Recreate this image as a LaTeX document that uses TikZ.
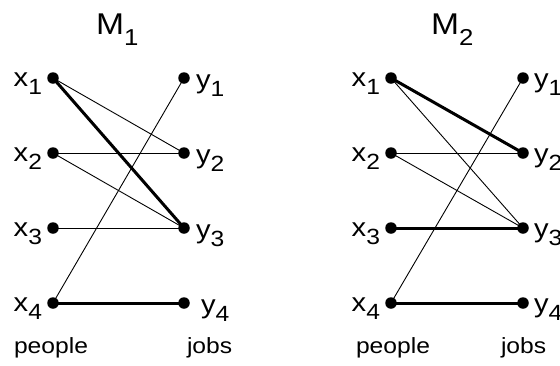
\documentclass[tikz,border=0pt]{standalone}
\usepackage{fontspec}
\setmainfont{Liberation Sans}[FakeStretch=1.12]
\newcommand\vlab[2]{#1\raisebox{-8pt}{\fontsize{22}{22}\selectfont #2}}
\newcommand\mlab[1]{\fontsize{30}{30}\selectfont M\raisebox{-11pt}{\fontsize{23}{23}\selectfont #1}}
\tikzset{
  dot/.style={circle,fill=black,inner sep=0pt,minimum size=11.5pt},
  thinedge/.style={line width=0.9pt},
  thickedge/.style={line width=3pt},
  lab/.style={inner sep=0pt,outer sep=0pt,font=\fontsize{26}{26}\selectfont},
  word/.style={inner sep=0pt,outer sep=0pt,font=\fontsize{22}{22}\selectfont,anchor=base west}
}
\begin{document}
\begin{tikzpicture}[x=1pt,y=-1pt]
\useasboundingbox (0,0) rectangle (560,365);
% ---------- M1 ----------
\node[inner sep=0pt,anchor=base west] (t1) at (96,34) {\mlab{1}};
\foreach \i/\r in {1/78,2/153,3/228,4/303}{
  \node[dot] (a\i) at (53,\r) {};
  \node[dot] (b\i) at (184,\r) {};
  \node[lab,anchor=base east] (la\i) at (42,\r+8) {\vlab{x}{\i}};
}
\node[lab,anchor=base west] (lb1) at (196,88) {\vlab{y}{1}};
\node[lab,anchor=base west] (lb2) at (196,163) {\vlab{y}{2}};
\node[lab,anchor=base west] (lb3) at (196,238) {\vlab{y}{3}};
\node[lab,anchor=base west] (lb4) at (201,313) {\vlab{y}{4}};
\draw[thinedge] (a1.center) -- (b2.center);
\draw[thickedge] (a1.center) -- (b3.center);
\draw[thinedge] (a2.center) -- (b2.center);
\draw[thinedge] (a2.center) -- (b3.center);
\draw[thinedge] (a3.center) -- (b3.center);
\draw[thinedge] (a4.center) -- (b1.center);
\draw[thickedge] (a4.center) -- (b4.center);
\node[word] (p1) at (14,353) {people};
\node[word] (j1) at (187,353) {jobs};
% ---------- M2 ----------
\node[inner sep=0pt,anchor=base west] (t2) at (431,34) {\mlab{2}};
\foreach \i/\r in {1/78,2/153,3/228,4/303}{
  \node[dot] (c\i) at (391,\r) {};
  \node[dot] (d\i) at (523,\r) {};
  \node[lab,anchor=base east] (lc\i) at (380,\r+8) {\vlab{x}{\i}};
  \node[lab,anchor=base west] (ld\i) at (534,\r+9) {\vlab{y}{\i}};
}
\draw[thickedge] (c1.center) -- (d2.center);
\draw[thinedge] (c1.center) -- (d3.center);
\draw[thinedge] (c2.center) -- (d2.center);
\draw[thinedge] (c2.center) -- (d3.center);
\draw[thickedge] (c3.center) -- (d3.center);
\draw[thinedge] (c4.center) -- (d1.center);
\draw[thickedge] (c4.center) -- (d4.center);
\node[word] (p2) at (356,353) {people};
\node[word] (j2) at (501,353) {jobs};
\end{tikzpicture}
\end{document}
